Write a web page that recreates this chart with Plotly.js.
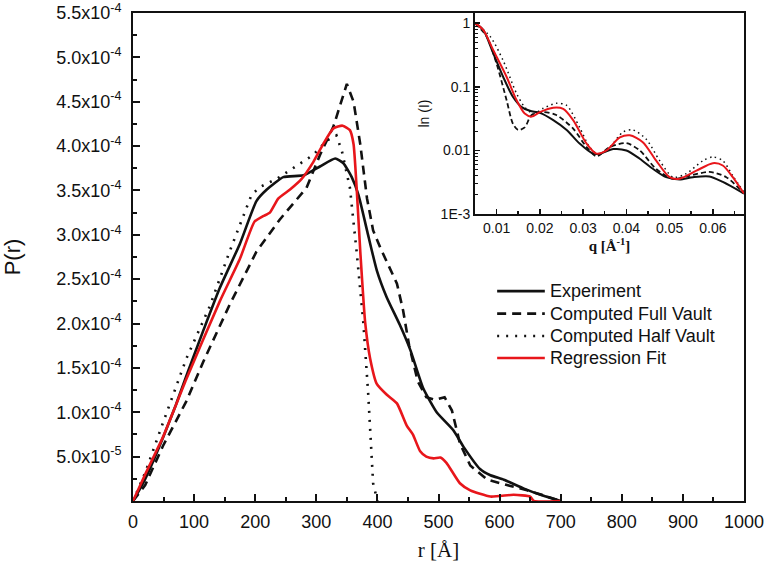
<!DOCTYPE html>
<html>
<head>
<meta charset="utf-8">
<script src="https://cdn.plot.ly/plotly-3.0.1.min.js"></script>
<style>html,body{margin:0;padding:0;background:#fff;}#chart{width:768px;height:573px;}</style>
</head>
<body>
<div id="chart"></div>
<script>
// ---- Main plot: P(r) ----
const expR = [0, 10, 20, 35, 50, 70, 90, 115, 142, 175, 202, 219, 246, 279, 306, 331, 344, 358, 369, 383, 399, 415, 437, 454, 475, 497, 524, 541, 568, 585, 607, 640, 667, 700];
const expP = [0, 1.2e-5, 2.5e-5, 4.8e-5, 7.3e-5, 1.08e-4, 1.46e-4, 1.92e-4, 2.40e-4, 2.9e-4, 3.38e-4, 3.51e-4, 3.65e-4, 3.67e-4, 3.77e-4, 3.86e-4, 3.81e-4, 3.65e-4, 3.45e-4, 3.05e-4, 2.6e-4, 2.3e-4, 1.98e-4, 1.70e-4, 1.27e-4, 1.0e-4, 8.0e-5, 6.1e-5, 3.6e-5, 2.9e-5, 2.4e-5, 1.4e-5, 7e-6, 0];

const fullR = [0, 20, 49, 87, 115, 158, 202, 240, 284, 306, 328, 350, 361, 372, 383, 393, 405, 418, 432, 442, 452, 466, 480, 495, 510, 522, 535, 552, 580, 612, 645, 678, 700];
const fullP = [0, 1.8e-5, 6.2e-5, 1.12e-4, 1.57e-4, 2.21e-4, 2.81e-4, 3.17e-4, 3.53e-4, 3.90e-4, 4.22e-4, 4.70e-4, 4.50e-4, 4.02e-4, 3.41e-4, 3.05e-4, 2.85e-4, 2.65e-4, 2.45e-4, 2.15e-4, 1.75e-4, 1.35e-4, 1.17e-4, 1.14e-4, 1.17e-4, 1.02e-4, 6.5e-5, 4.0e-5, 2.4e-5, 1.8e-5, 1.2e-5, 5e-6, 0];

const halfR = [0, 20, 49, 87, 126, 158, 194, 208, 235, 268, 295, 317, 333, 342, 355, 366, 377, 385, 393, 400];
const halfP = [0, 3.2e-5, 8.8e-5, 1.6e-4, 2.2e-4, 2.81e-4, 3.45e-4, 3.54e-4, 3.63e-4, 3.78e-4, 3.9e-4, 4.06e-4, 4.12e-4, 3.94e-4, 3.53e-4, 2.81e-4, 2.01e-4, 1.2e-4, 2e-5, 0];

const fitR = [0, 20, 49, 87, 142, 175, 199, 213, 224, 238, 257, 276, 295, 311, 328, 343, 355, 361, 366, 372, 380, 388, 399, 415, 432, 448, 458, 470, 480, 492, 503, 513, 535, 552, 585, 623, 650, 656, 700];
const fitP = [0, 3.0e-5, 7.2e-5, 1.37e-4, 2.25e-4, 2.73e-4, 3.15e-4, 3.21e-4, 3.25e-4, 3.41e-4, 3.51e-4, 3.63e-4, 3.82e-4, 4.02e-4, 4.2e-4, 4.23e-4, 4.18e-4, 4.02e-4, 3.53e-4, 2.81e-4, 2.01e-4, 1.61e-4, 1.32e-4, 1.2e-4, 1.1e-4, 8.5e-5, 7.5e-5, 5.6e-5, 5.0e-5, 4.8e-5, 4.9e-5, 4.3e-5, 2.0e-5, 1.2e-5, 5e-6, 7e-6, 5e-6, 0, 0];

// ---- Inset: ln(I) vs q ----
const expQ = [0.005, 0.0069, 0.0092, 0.0115, 0.0138, 0.0158, 0.0177, 0.020, 0.0231, 0.0262, 0.0292, 0.0323, 0.0339, 0.037, 0.040, 0.0431, 0.0462, 0.0492, 0.0523, 0.0554, 0.0592, 0.0623, 0.0672];
const expI = [1.0, 0.785, 0.34, 0.144, 0.069, 0.048, 0.042, 0.039, 0.030, 0.021, 0.0128, 0.0089, 0.0089, 0.0105, 0.010, 0.0074, 0.0051, 0.0038, 0.0035, 0.0038, 0.0039, 0.0032, 0.0021];

const fitQ = [0.005, 0.0069, 0.0092, 0.0123, 0.0146, 0.0165, 0.0181, 0.020, 0.0231, 0.0254, 0.0277, 0.0308, 0.0331, 0.0354, 0.0385, 0.0408, 0.0438, 0.0469, 0.050, 0.0523, 0.0562, 0.060, 0.0623, 0.0646, 0.0672];
const fitI = [1.0, 0.785, 0.38, 0.144, 0.062, 0.038, 0.034, 0.040, 0.047, 0.045, 0.030, 0.0128, 0.0089, 0.010, 0.016, 0.0173, 0.0135, 0.0069, 0.0038, 0.0036, 0.0048, 0.0063, 0.0058, 0.0038, 0.0021];

const fullQ = [0.005, 0.0077, 0.010, 0.0123, 0.0138, 0.015, 0.0165, 0.0181, 0.0208, 0.0238, 0.0277, 0.0308, 0.0331, 0.0362, 0.040, 0.0431, 0.0469, 0.0508, 0.0546, 0.0592, 0.0631, 0.0672];
const fullI = [1.0, 0.62, 0.23, 0.062, 0.026, 0.021, 0.023, 0.036, 0.040, 0.036, 0.022, 0.0113, 0.0081, 0.0113, 0.013, 0.010, 0.0051, 0.0036, 0.0040, 0.0046, 0.0038, 0.0021];

const halfQ = [0.005, 0.0085, 0.0115, 0.0146, 0.0165, 0.0185, 0.0208, 0.0238, 0.0262, 0.0292, 0.0315, 0.0335, 0.0362, 0.0392, 0.0415, 0.0446, 0.0477, 0.0508, 0.0538, 0.0577, 0.060, 0.0623, 0.0646, 0.0672];
const halfI = [1.0, 0.62, 0.26, 0.079, 0.048, 0.038, 0.046, 0.055, 0.051, 0.023, 0.0113, 0.0087, 0.0113, 0.0194, 0.021, 0.015, 0.0069, 0.0038, 0.0043, 0.0069, 0.0079, 0.0069, 0.0040, 0.0022];

// tick labels
const yTickVals = [5e-5, 1e-4, 1.5e-4, 2e-4, 2.5e-4, 3e-4, 3.5e-4, 4e-4, 4.5e-4, 5e-4, 5.5e-4];
const yTickText = ['5.0x10<sup>-5</sup>', '1.0x10<sup>-4</sup>', '1.5x10<sup>-4</sup>', '2.0x10<sup>-4</sup>', '2.5x10<sup>-4</sup>', '3.0x10<sup>-4</sup>', '3.5x10<sup>-4</sup>', '4.0x10<sup>-4</sup>', '4.5x10<sup>-4</sup>', '5.0x10<sup>-4</sup>', '5.5x10<sup>-4</sup>'];
const insetYTickVals = [0.001, 0.01, 0.1, 1];
const insetYTickText = ['1E-3', '0.01', '0.1', '1'];
const names = ['Experiment', 'Computed Full Vault', 'Computed Half Vault', 'Regression Fit'];

const black = '#111111';
const red = '#e8161b';
const W = 2.6;
const styles = [
  {color: black, width: W},
  {color: black, width: W, dash: '9px,6px'},
  {color: black, width: W, dash: '2px,7px'},
  {color: red, width: W}
];

const traces = [
  {x: expR, y: expP, name: names[0], mode: 'lines', line: Object.assign({shape: 'spline', smoothing: 0.5}, styles[0])},
  {x: fullR, y: fullP, name: names[1], mode: 'lines', line: styles[1]},
  {x: halfR, y: halfP, name: names[2], mode: 'lines', line: styles[2]},
  {x: fitR, y: fitP, name: names[3], mode: 'lines', line: Object.assign({shape: 'spline', smoothing: 0.5}, styles[3])},
  {x: expQ, y: expI, xaxis: 'x2', yaxis: 'y2', showlegend: false, mode: 'lines', line: {color: black, width: 2, shape: 'spline', smoothing: 0.8}},
  {x: fullQ, y: fullI, xaxis: 'x2', yaxis: 'y2', showlegend: false, mode: 'lines', line: {color: black, width: 1.8, dash: '5px,3px', shape: 'spline', smoothing: 0.8}},
  {x: halfQ, y: halfI, xaxis: 'x2', yaxis: 'y2', showlegend: false, mode: 'lines', line: {color: black, width: 1.5, dash: '1.5px,3.5px', shape: 'spline', smoothing: 0.8}},
  {x: fitQ, y: fitI, xaxis: 'x2', yaxis: 'y2', showlegend: false, mode: 'lines', line: {color: red, width: 2, shape: 'spline', smoothing: 0.8}}
];

// Legend (drawn as key: sample lines + labels in paper coordinates)
const legX0 = 0.596, legX1 = 0.674, legTextX = 0.679;
const legRowsY = [0.430, 0.384, 0.338, 0.293];
const shapes = [], annotations = [];
names.forEach((n, i) => {
  shapes.push({type: 'line', xref: 'paper', yref: 'paper', x0: legX0, x1: legX1, y0: legRowsY[i], y1: legRowsY[i], line: styles[i]});
  annotations.push({xref: 'paper', yref: 'paper', x: legTextX, y: legRowsY[i], xanchor: 'left', yanchor: 'middle', showarrow: false, text: n,
    font: {family: 'Liberation Sans, Arial, sans-serif', size: 18, color: '#111'}});
});

// minor tick positions for inset log axis
const logMinor = [];
for (let d = -3; d <= 0; d++) for (let k = 2; k <= 9; k++) { const v = k * Math.pow(10, d); if (v < 1.45) logMinor.push(v); }

const tickFont = {family: 'Liberation Sans, Arial, sans-serif', size: 18, color: '#111'};
const insetFont = {family: 'Liberation Sans, Arial, sans-serif', size: 14, color: '#111'};

const layout = {
  width: 768, height: 573,
  margin: {l: 133, r: 24, t: 13, b: 72},
  paper_bgcolor: '#fff', plot_bgcolor: '#fff',
  showlegend: false,
  shapes: shapes, annotations: annotations,
  xaxis: {
    domain: [0, 1], range: [0, 1000], tickvals: [0,100,200,300,400,500,600,700,800,900,1000],
    ticks: 'inside', ticklen: 7, tickwidth: 2, tickcolor: black, ticklabelstandoff: 3,
    minor: {ticks: 'inside', ticklen: 4, tickwidth: 2, dtick: 50, tick0: 0, tickcolor: black},
    showline: true, linewidth: 2, linecolor: black, mirror: true, showgrid: false, zeroline: false,
    tickfont: tickFont,
    title: {text: 'r [Å]', font: {family: 'Liberation Serif, Times New Roman, serif', size: 21, color: '#111'}, standoff: 12}
  },
  yaxis: {
    domain: [0, 1], range: [0, 5.5e-4], tickvals: yTickVals, ticktext: yTickText,
    ticks: 'inside', ticklen: 7, tickwidth: 2, tickcolor: black, ticklabelstandoff: 6,
    minor: {ticks: 'inside', ticklen: 4, tickwidth: 2, dtick: 2.5e-5, tick0: 0, tickcolor: black},
    showline: true, linewidth: 2, linecolor: black, mirror: true, showgrid: false, zeroline: false,
    tickfont: tickFont,
    title: {text: 'P(r)', font: {family: 'Liberation Sans, Arial, sans-serif', size: 22, color: '#111'}, standoff: 34}
  },
  xaxis2: {
    anchor: 'y2', domain: [0.5597, 1], range: [0.005, 0.0672],
    tickvals: [0.01, 0.02, 0.03, 0.04, 0.05, 0.06],
    ticks: 'inside', ticklen: 5, tickwidth: 1.5, tickcolor: black,
    minor: {ticks: 'inside', ticklen: 3, tickwidth: 1.5, dtick: 0.005, tick0: 0, tickcolor: black},
    showline: true, linewidth: 2, linecolor: black, mirror: true, showgrid: false, zeroline: false,
    tickfont: insetFont,
    title: {text: '<b>q [Å<sup>-1</sup>]</b>', font: {family: 'Liberation Serif, Times New Roman, serif', size: 15, color: '#111'}, standoff: 4}
  },
  yaxis2: {
    anchor: 'x2', domain: [0.588, 1], type: 'log', range: [-3, 0.16],
    tickvals: insetYTickVals, ticktext: insetYTickText,
    ticks: 'inside', ticklen: 5, tickwidth: 1.5, tickcolor: black,
    minor: {ticks: 'inside', ticklen: 3, tickwidth: 1, tickmode: 'array', tickvals: logMinor, tickcolor: black},
    showline: true, linewidth: 2, linecolor: black, mirror: true, showgrid: false, zeroline: false,
    tickfont: insetFont,
    title: {text: 'ln (I)', font: {family: 'Liberation Sans, Arial, sans-serif', size: 14, color: '#111'}, standoff: 8}
  }
};

Plotly.newPlot('chart', traces, layout, {staticPlot: true, displayModeBar: false});
</script>
</body>
</html>
